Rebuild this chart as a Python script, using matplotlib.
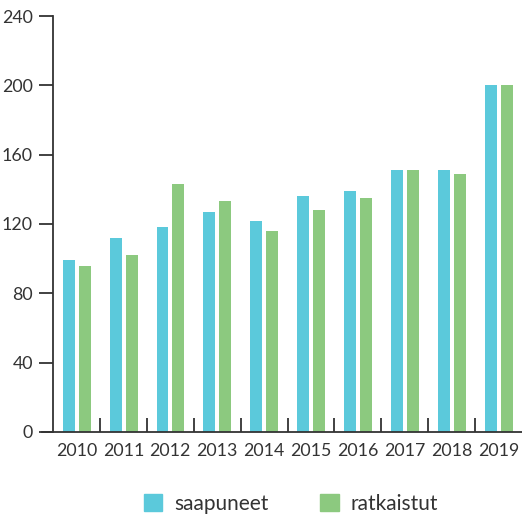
import numpy as np
import matplotlib.pyplot as plt
from matplotlib.patches import Patch

years = ["2010", "2011", "2012", "2013", "2014", "2015", "2016", "2017", "2018", "2019"]
saapuneet = [99, 112, 118, 127, 122, 136, 139, 151, 151, 200]
ratkaistut = [96, 102, 143, 133, 116, 128, 135, 151, 149, 200]
series_names = ["saapuneet", "ratkaistut"]

blue = "#5bc9db"
green = "#8cc97f"
dark = "#333333"

plt.rcParams["font.family"] = ["Lato", "DejaVu Sans"]

fig = plt.figure(figsize=(5.22, 5.15), dpi=100)
ax = fig.add_axes([53 / 522, 83 / 515, 469 / 522, 416 / 515])

x = np.arange(len(years))
w = 0.255
ax.bar(x - 0.165, saapuneet, width=w, color=blue)
ax.bar(x + 0.175, ratkaistut, width=w, color=green)

ax.set_xlim(-0.5, len(years) - 0.5)
ax.set_ylim(0, 240)
ax.set_yticks(np.arange(0, 241, 40))

for s in ["top", "right"]:
    ax.spines[s].set_visible(False)
for s in ["left", "bottom"]:
    ax.spines[s].set_color(dark)
    ax.spines[s].set_linewidth(1.3)
ax.spines["bottom"].set_bounds(-0.73, len(years) - 0.5)

ax.tick_params(axis="y", direction="out", length=10, width=1.3, color=dark,
               labelsize=12.8, labelcolor=dark, pad=4.5)
ax.set_xticks(x)
ax.set_xticklabels(years)
ax.tick_params(axis="x", length=0, labelsize=12.8, labelcolor=dark, pad=8)
ax.set_xticks(np.arange(0.5, len(years) - 1, 1.0), minor=True)
ax.tick_params(axis="x", which="minor", direction="in", length=10, width=1.3, color=dark)

handles = [Patch(color=blue), Patch(color=green)]
fig.legend(handles, series_names, loc="center", bbox_to_anchor=(291 / 522, 1 - 504 / 515),
           ncol=2, frameon=False, fontsize=15, labelcolor=dark,
           handlelength=0.87, handleheight=0.87, handletextpad=0.58, columnspacing=2.5)

fig.savefig("out.png", dpi=100)
